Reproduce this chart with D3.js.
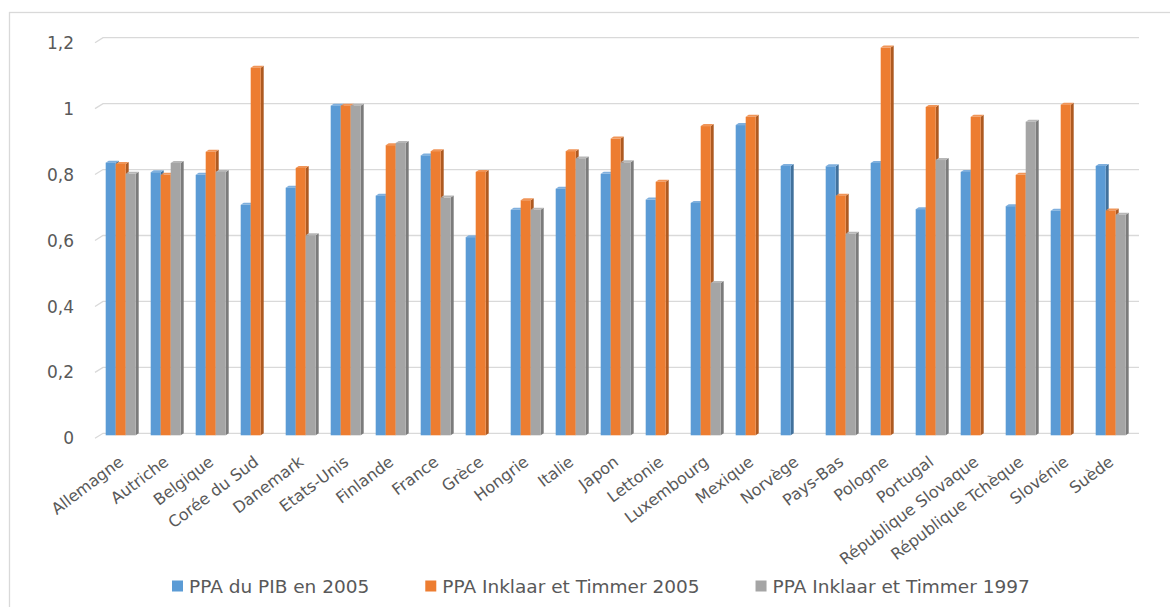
<!DOCTYPE html>
<html><head><meta charset="utf-8">
<script src="https://cdn.jsdelivr.net/npm/d3@7"></script>
<style>
body{margin:0;background:#fff;overflow:hidden}
text{font-family:"DejaVu Sans",sans-serif;fill:#595959}
</style>
</head><body>
<svg id="c" width="1170" height="607"></svg>
<script>
const categories = ["Allemagne","Autriche","Belgique","Corée du Sud","Danemark","Etats-Unis","Finlande","France","Grèce","Hongrie","Italie","Japon","Lettonie","Luxembourg","Mexique","Norvège","Pays-Bas","Pologne","Portugal","République Slovaque","République Tchèque","Slovénie","Suède"];
const seriesNames = ["PPA du PIB en 2005","PPA Inklaar et Timmer 2005","PPA Inklaar et Timmer 1997"];
const pibPPA2005   = [0.827,0.798,0.790,0.699,0.751,1.000,0.727,0.849,0.601,0.684,0.748,0.793,0.715,0.705,0.941,0.817,0.816,0.826,0.686,0.799,0.695,0.681,0.817];
const inklaar2005  = [0.823,0.790,0.860,1.115,0.811,1.000,0.880,0.862,0.799,0.713,0.862,0.900,0.769,0.938,0.966,null,0.727,1.176,0.996,0.966,0.790,1.003,0.682];
const inklaar1997  = [0.793,0.826,0.799,null,0.607,1.000,0.887,0.721,null,0.684,0.840,0.828,null,0.462,null,null,0.611,null,0.835,null,0.951,null,0.669];
const yTicks = [0,0.2,0.4,0.6,0.8,1,1.2];
const yTickLabels = ["0","0,2","0,4","0,6","0,8","1","1,2"];

const colors = {front:["#5B9BD5","#ED7D31","#A5A5A5"], side:["#41719C","#AE5A21","#7B7B7B"], top:["#7FAFDD","#F09558","#B7B7B7"]};
const seriesData = [pibPPA2005, inklaar2005, inklaar1997];

const svg = d3.select("#c");
svg.append("rect").attr("x",9.5).attr("y",12.5).attr("width",1200).attr("height",650)
  .attr("fill","none").attr("stroke","#d9d9d9").attr("stroke-width",1.3);

const y = d3.scaleLinear().domain([0,1.2]).range([433.3,37.7]);
const x = d3.scaleBand().domain(categories).range([98.2,1133.2]).paddingInner(1/3).paddingOuter(1/6);
const xs = d3.scaleBand().domain(d3.range(3)).range([0,x.bandwidth()]);

const wallX = 103, frontX = 95, dOff = 5, gridEnd = 1139;
const g = svg.append("g");
yTicks.forEach(t=>{
  g.append("path").attr("d",`M${frontX},${y(t)+dOff}L${wallX},${y(t)}L${gridEnd},${y(t)}`)
   .attr("fill","none").attr("stroke","#d9d9d9").attr("stroke-width",1.3);
});
svg.append("g").selectAll("text").data(yTicks).join("text")
  .attr("x",74).attr("y",d=>y(d)+dOff).attr("dy","0.36em").attr("text-anchor","end")
  .style("font-size","17px").text((d,i)=>yTickLabels[i]);

const bd = 3, bh = 2;
const bars = svg.append("g");
categories.forEach((c,ci)=>{
  seriesData.forEach((arr,si)=>{
    const v = arr[ci];
    if(v==null) return;
    const x0 = x(c)+xs(si), w = xs.bandwidth();
    const top = y(v)+bh, base = y(0)+bh;
    bars.append("path").attr("d",`M${x0+w},${top}L${x0+w+bd},${top-bh}L${x0+w+bd},${base-bh}L${x0+w},${base}Z`).attr("fill",colors.side[si]);
    bars.append("path").attr("d",`M${x0},${top}L${x0+bd},${top-bh}L${x0+w+bd},${top-bh}L${x0+w},${top}Z`).attr("fill",colors.top[si]);
    bars.append("rect").attr("x",x0).attr("y",top).attr("width",w).attr("height",base-top).attr("fill",colors.front[si]);
  });
});

svg.append("g").selectAll("text").data(categories).join("text")
  .attr("text-anchor","end")
  .attr("transform",d=>`translate(${x(d)+x.bandwidth()/2+4},464) rotate(-37)`)
  .style("font-size","16px").text(d=>d);

const leg = svg.append("g");
let cx = 0;
seriesNames.forEach((n,i)=>{
  const it = leg.append("g");
  it.append("rect").attr("x",0).attr("y",-5.5).attr("width",11).attr("height",11).attr("fill",colors.front[i]);
  const t = it.append("text").attr("x",17).attr("y",0).attr("dy","0.36em").style("font-size","18.5px").text(n);
  const w = 17 + t.node().getComputedTextLength();
  it.attr("transform",`translate(${cx},0)`);
  cx += w + 56;
});
leg.attr("transform",`translate(172,586)`);
</script>
</body></html>
